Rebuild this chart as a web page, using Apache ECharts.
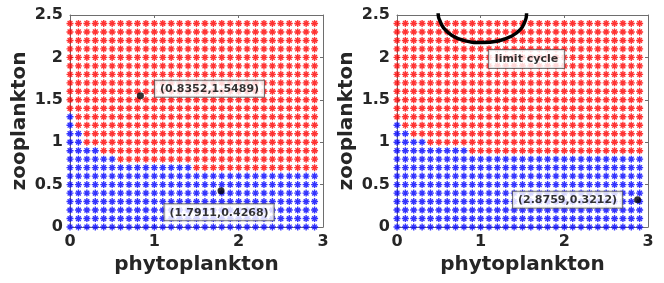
<!DOCTYPE html>
<html>
<head>
<meta charset="utf-8">
<script src="https://cdn.jsdelivr.net/npm/echarts@6/dist/echarts.min.js"></script>
<style>html,body{margin:0;padding:0;background:#fff}#c{width:664px;height:283px}</style>
</head>
<body>
<div id="c"></div>
<script>
// Initial-condition grid (phytoplankton x, zooplankton y)
const gridX = [0,0.1,0.2,0.3,0.4,0.5,0.6,0.7,0.8,0.9,1.0,1.1,1.2,1.3,1.4,1.5,1.6,1.7,1.8,1.9,2.0,2.1,2.2,2.3,2.4,2.5,2.6,2.7,2.8,2.9];
const gridY = [0,0.1,0.2,0.3,0.4,0.5,0.6,0.7,0.8,0.9,1.0,1.1,1.2,1.3,1.4,1.5,1.6,1.7,1.8,1.9,2.0,2.1,2.2,2.3,2.4];
// Highest zooplankton value (per x column) that ends in the blue basin
const blueTop1 = [1.3,1.1,0.9,0.9,0.8,0.8,0.7,0.7,0.7,0.7,0.7,0.7,0.7,0.7,0.7,0.6,0.6,0.6,0.6,0.6,0.6,0.6,0.6,0.6,0.6,0.6,0.6,0.6,0.6,0.6];
const blueTop2 = [1.2,1.1,1.0,1.0,0.9,0.9,0.9,0.9,0.9,0.8,0.8,0.8,0.8,0.8,0.8,0.8,0.8,0.8,0.8,0.8,0.8,0.8,0.8,0.8,0.8,0.8,0.8,0.8,0.8,0.8];
// Equilibria
const eqPts1 = [[0.8352,1.5489],[1.7911,0.4268]];
const eqPts2 = [[2.8759,0.3212]];
// Limit cycle (visible part)
const cycleX = [0.49,0.493,0.513,0.561,0.653,0.791,1.011,1.209,1.369,1.476,1.527,1.548,1.55];
const cycleY = [2.6,2.5,2.432,2.342,2.262,2.202,2.175,2.194,2.25,2.33,2.42,2.5,2.6];
const cycleLabel = {text:'limit cycle', at:[1.548,1.98]};
const xTicks = [0,1,2,3];
const yTicks = [0,0.5,1,1.5,2,2.5];

function split(top){
  const red=[], blue=[];
  gridX.forEach((x,i)=>{
    gridY.forEach(y=>{
      if (y <= top[i] + 1e-9) blue.push([x,y]); else red.push([x,y]);
    });
  });
  return {red, blue};
}
const p1 = split(blueTop1), p2 = split(blueTop2);

const FONT = 'DejaVu Sans';
const star = 'path://M5,0L5,10M0,5L10,5M1.6,1.6L8.4,8.4M1.6,8.4L8.4,1.6';
const axisCol = '#262626';
const lineCol = '#6e6e6e';

function xAx(g, top){
  return {gridIndex:g, type:'value', min:0, max:3, interval:1, position: top?'top':'bottom',
    axisLine:{show:true, onZero:false, lineStyle:{color:lineCol, width:1}},
    axisTick:{show:true, inside:true, length:3, lineStyle:{color:lineCol}},
    axisLabel:{show:!top, margin:7, color:axisCol, fontFamily:FONT, fontWeight:'bold', fontSize:16},
    splitLine:{show:false},
    name: top?'':'phytoplankton', nameLocation:'middle', nameGap:28,
    nameTextStyle:{color:axisCol, fontFamily:FONT, fontWeight:'bold', fontSize:20}};
}
function yAx(g, right){
  return {gridIndex:g, type:'value', min:0, max:2.5, interval:0.5, position: right?'right':'left',
    axisLine:{show:true, onZero:false, lineStyle:{color:lineCol, width:1}},
    axisTick:{show:true, inside:true, length:3, lineStyle:{color:lineCol}},
    axisLabel:{show:!right, margin:7, color:axisCol, fontFamily:FONT, fontWeight:'bold', fontSize:16},
    splitLine:{show:false},
    name: right?'':'zooplankton', nameLocation:'middle', nameGap:40,
    nameTextStyle:{color:axisCol, fontFamily:FONT, fontWeight:'bold', fontSize:20}};
}
function starSeries(data, color, g){
  return {type:'scatter', xAxisIndex:g, yAxisIndex:g, data, symbol:star, symbolSize:7,
    itemStyle:{color:'rgba(0,0,0,0)', borderColor:color, borderWidth:1.4}, silent:true, z:2};
}
const boxLabel = {show:true, color:'#000', fontFamily:FONT, fontWeight:'bold', fontSize:11,
  backgroundColor:'#ffffff', borderColor:'#555', borderWidth:1, padding:[3,5,2,5],
  textBorderWidth:0, textBorderColor:'transparent', textShadowBlur:0, shadowBlur:0};
function fmt(p){ return '(' + p.value[0].toFixed(4) + ',' + p.value[1].toFixed(4) + ')'; }

const option = {
  animation:false,
  grid:[{left:70, right:341, top:15, bottom:56},{left:397, right:16, top:15, bottom:56}],
  xAxis:[xAx(0,false), xAx(1,false), xAx(0,true), xAx(1,true)],
  yAxis:[yAx(0,false), yAx(1,false), yAx(0,true), yAx(1,true)],
  series:[
    starSeries(p1.red,'#ff0000',0), starSeries(p1.blue,'#0000ff',0),
    starSeries(p2.red,'#ff0000',1), starSeries(p2.blue,'#0000ff',1),
    {type:'line', xAxisIndex:1, yAxisIndex:1, data: cycleX.map((x,i)=>[x,cycleY[i]]), smooth:true,
      showSymbol:false, lineStyle:{color:'#000', width:3.5}, clip:true, z:4},
    {type:'scatter', xAxisIndex:0, yAxisIndex:0, symbol:'circle', symbolSize:7, itemStyle:{color:'#000'}, z:5,
      data:[{value:eqPts1[0], label:Object.assign({}, boxLabel, {position:'right', distance:11, offset:[0,-7], formatter:fmt})},
            {value:eqPts1[1], label:Object.assign({}, boxLabel, {position:'bottom', distance:10, offset:[-2,0], formatter:fmt})}]},
    {type:'scatter', xAxisIndex:1, yAxisIndex:1, symbol:'circle', symbolSize:7, itemStyle:{color:'#000'}, z:5,
      data:[{value:eqPts2[0], label:Object.assign({}, boxLabel, {position:'left', distance:12, offset:[0,0], formatter:fmt})}]},
    {type:'scatter', xAxisIndex:1, yAxisIndex:1, symbolSize:0, z:6,
      data:[{value:cycleLabel.at, label:Object.assign({}, boxLabel, {position:'inside', padding:[4,6,3,6], formatter:cycleLabel.text})}]}
  ]
};
const chart = echarts.init(document.getElementById('c'), null, {renderer:'canvas'});
chart.setOption(option);
</script>
</body>
</html>
